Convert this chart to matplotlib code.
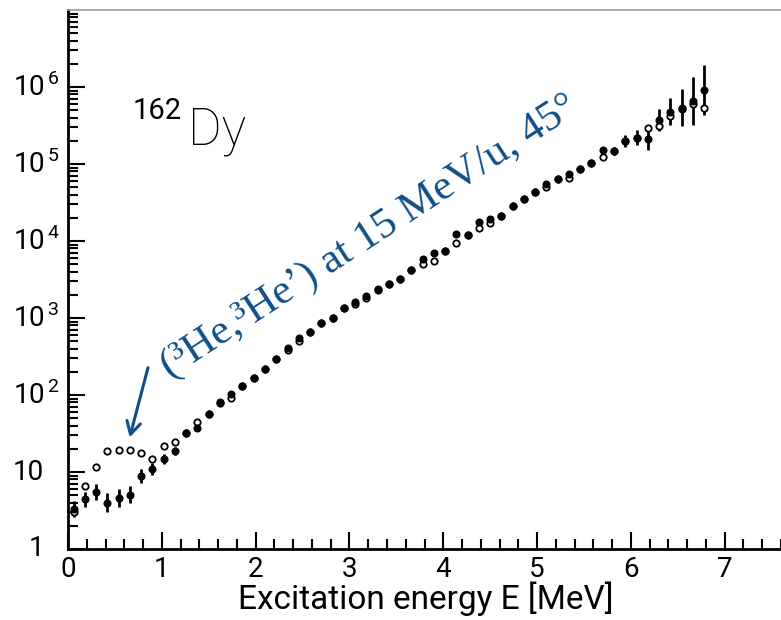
import matplotlib
matplotlib.use("Agg")
import matplotlib.pyplot as plt
import matplotlib.transforms as mtransforms
import numpy as np
from matplotlib.ticker import FixedLocator, NullFormatter

plt.rcParams['font.family'] = ['Roboto', 'DejaVu Sans']
plt.rcParams['mathtext.fontset'] = 'custom'
plt.rcParams['mathtext.rm'] = 'Roboto'

# excitation energy bins (MeV)
energy = [0.06, 0.18, 0.30, 0.42, 0.54, 0.66, 0.78, 0.90, 1.02, 1.14,
          1.26, 1.38, 1.50, 1.62, 1.74, 1.86, 1.98, 2.10, 2.22, 2.34,
          2.46, 2.58, 2.70, 2.82, 2.94, 3.06, 3.18, 3.30, 3.42, 3.54,
          3.66, 3.78, 3.90, 4.02, 4.14, 4.26, 4.38, 4.50, 4.62, 4.74,
          4.86, 4.98, 5.10, 5.22, 5.34, 5.46, 5.58, 5.70, 5.82, 5.94,
          6.06, 6.18, 6.30, 6.42, 6.54, 6.66, 6.78]

# filled points (level density)
rho_filled = [3.3, 4.4, 5.5, 4.0, 4.6, 5.1, 8.9, 11, 14.8, 18.6,
              32, 37, 56, 81, 102, 132, 166, 219, 295, 407,
              550, 661, 871, 1000, 1350, 1620, 1950, 2400, 2750, 3240,
              4170, 5890, 6920, 7410, 12300, 12000, 17800, 19500, 20900, 28200,
              35500, 43700, 55000, 64600, 74100, 87100, 102000, 151000, 148000, 200000,
              219000, 209000, 372000, 479000, 537000, 661000, 912000]

# error of filled points, in decades
err_filled = [0.10, 0.10, 0.10, 0.12, 0.12, 0.11, 0.09, 0.08, 0.06, 0.05,
              0.03, 0.03, 0.03, 0.03, 0.03, 0.03, 0.03, 0.03, 0.03, 0.03,
              0.03, 0.03, 0.03, 0.03, 0.03, 0.03, 0.03, 0.03, 0.03, 0.03,
              0.03, 0.03, 0.03, 0.03, 0.03, 0.03, 0.03, 0.03, 0.03, 0.03,
              0.03, 0.03, 0.03, 0.03, 0.03, 0.03, 0.03, 0.04, 0.05, 0.08,
              0.10, 0.14, 0.14, 0.18, 0.24, 0.31, 0.32]

# open points
rho_open = [3.0, 6.6, 11.5, 18.6, 19.5, 19.5, 17.8, 14.8, 21.9, 24.5,
            32, 45, 56, 79, 91, 132, 166, 219, 295, 380,
            500, 661, 871, 1000, 1350, 1510, 1820, 2290, 2750, 3240,
            4170, 5010, 5500, 7410, 9330, 12000, 14800, 17000, 20900, 28200,
            35500, 43700, 50100, 64600, 66100, 87100, 102000, 123000, 148000, 200000,
            219000, 295000, 309000, 417000, 525000, 603000, 537000]

x_ticks = [0, 1, 2, 3, 4, 5, 6, 7]
y_ticks = [1, 10, 1e2, 1e3, 1e4, 1e5, 1e6]
y_labels = ['1', '10', r'$10^{\,2}$', r'$10^{\,3}$', r'$10^{\,4}$',
            r'$10^{\,5}$', r'$10^{\,6}$']

blue = '#0e4f88'

fig = plt.figure(figsize=(7.81, 6.20), dpi=100)
ax = fig.add_axes([68/781, 1 - 549/620, 1 - 68/781, 539/620])
ax.set_yscale('log')
ax.set_xlim(0, 7.6)
ax.set_ylim(1, 1e7)

e = np.array(energy)
yf = np.array(rho_filled)
ef = np.array(err_filled)
ax.vlines(e, yf / 10**ef, yf * 10**ef, color='black', lw=2, zorder=2)
ax.plot(e, rho_open, 'o', ms=4.6, mfc='white', mec='black', mew=1.3, zorder=3)
ax.plot(e, rho_filled, 'o', ms=4.8, color='black', zorder=4)

# frame: black left/bottom, grey top line
for s in ['left', 'bottom']:
    ax.spines[s].set_linewidth(2)
ax.spines['right'].set_visible(False)
ax.spines['top'].set_color('#999999')
ax.spines['top'].set_linewidth(1.2)

ax.xaxis.set_major_locator(FixedLocator(x_ticks))
ax.xaxis.set_minor_locator(FixedLocator(np.arange(0, 7.61, 0.2)))
ax.yaxis.set_major_locator(FixedLocator(y_ticks))
ax.yaxis.set_major_formatter(NullFormatter())
minor_y = [m * 10**k for k in range(0, 7) for m in range(2, 10)]
ax.yaxis.set_minor_locator(FixedLocator(minor_y))
ax.yaxis.set_minor_formatter(NullFormatter())

ax.tick_params(which='both', direction='in', width=1.5, colors='black',
               labelsize=20, top=False, right=False)
ax.tick_params(which='major', length=12, pad=5)
ax.tick_params(which='minor', length=7)

# y tick labels, placed by hand like the ROOT layout
ytrans = mtransforms.blended_transform_factory(fig.transFigure, ax.transData)
for v, lab in zip(y_ticks, y_labels):
    if v < 100:
        ax.text(44/781, v, lab, transform=ytrans, ha='right', va='center',
                fontsize=20)
    else:
        ax.text(13/781, v, lab, transform=ytrans, ha='left', va='center',
                fontsize=20)

ax.set_xlabel('Excitation energy E [MeV]', fontsize=24)
ax.xaxis.set_label_coords(0.502, -0.060)

ax.text(1.215, 3.8e5, '162', fontsize=21, ha='right', va='baseline')
ax.text(1.28, 1.78e5, 'Dy', fontsize=37, fontweight='light', ha='left',
        va='baseline')

ax.text(1.09, 166, '(³He,³He’) at 15 MeV/u, 45°', family='Liberation Serif',
        fontsize=31, color=blue, rotation=33,
        rotation_mode='anchor', ha='left', va='baseline')
ax.annotate('', xy=(0.65, 26), xytext=(0.86, 245),
            arrowprops=dict(arrowstyle='->,head_length=0.9,head_width=0.5',
                            color=blue, lw=2.2))

fig.savefig('out.png', dpi=100)
